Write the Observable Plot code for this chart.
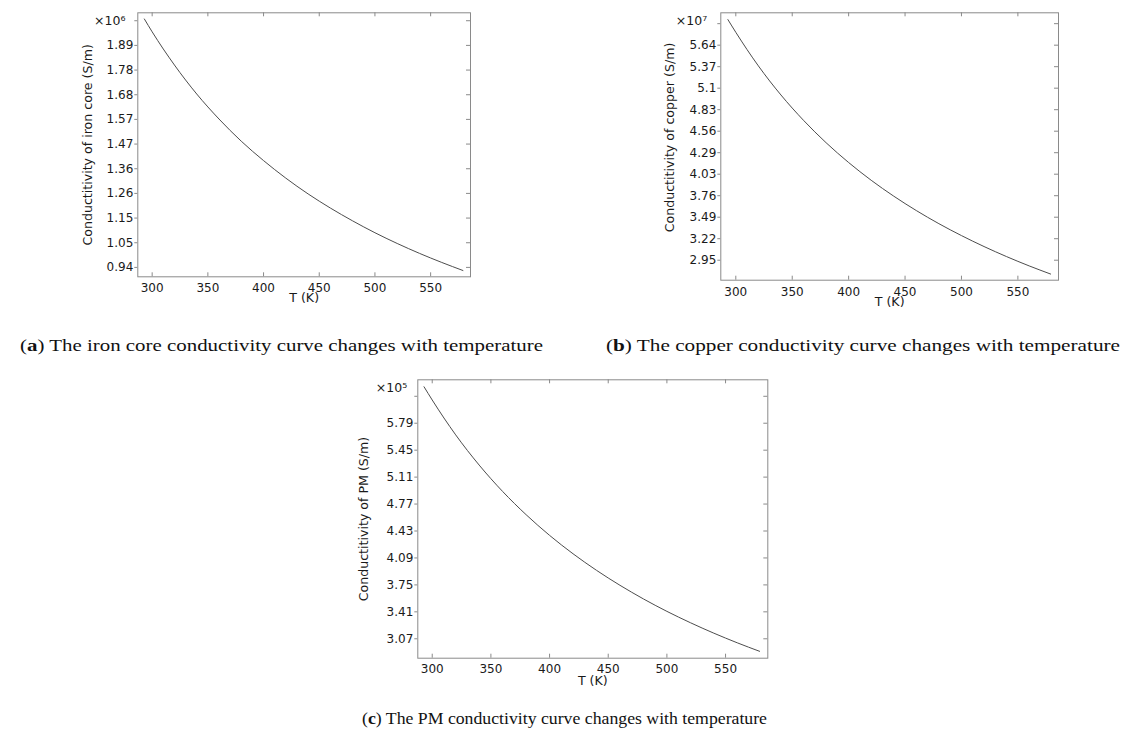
<!DOCTYPE html>
<html><head><meta charset="utf-8">
<script src="https://cdn.jsdelivr.net/npm/d3@7"></script>
<script src="https://cdn.jsdelivr.net/npm/@observablehq/plot@0.6"></script>
<style>
body{margin:0;background:#fff;}
#wrap{position:relative;width:1126px;height:735px;overflow:hidden;background:#fff;}
.panel{position:absolute;}
.panel svg{overflow:visible;}
.cap{position:absolute;font-family:"Liberation Serif",serif;font-size:17.5px;line-height:20px;color:#111;white-space:nowrap;transform-origin:0 50%;}
</style></head><body><div id="wrap">
<div class="panel" id="pa" style="left:0px;top:0px"></div>
<div class="panel" id="pb" style="left:580px;top:0px"></div>
<div class="panel" id="pc" style="left:280px;top:365px"></div>
<div class="cap" data-w="523" style="left:20px;top:335px">(<b>a</b>) The iron core conductivity curve changes with temperature</div>
<div class="cap" data-w="514" style="left:606px;top:335px">(<b>b</b>) The copper conductivity curve changes with temperature</div>
<div class="cap" data-w="405" style="left:362px;top:708px">(<b>c</b>) The PM conductivity curve changes with temperature</div>
</div>
<script>
// Temperature samples (K)
const temperature = [293, 300, 320, 340, 360, 380, 400, 420, 440, 460, 480, 500, 520, 540, 560, 579];
// Conductivity of iron core (×10^6 S/m)
const ironCore = [2.003, 1.948, 1.806, 1.682, 1.575, 1.480, 1.397, 1.322, 1.2545, 1.194, 1.139, 1.0884, 1.0424, 1.0001, 0.9612, 0.9268];
// Conductivity of copper (×10^7 S/m)
const copper = [5.960, 5.801, 5.381, 5.017, 4.700, 4.420, 4.172, 3.950, 3.751, 3.571, 3.407, 3.258, 3.121, 2.995, 2.879, 2.777];
// Conductivity of PM (×10^5 S/m)
const pm = [6.250, 6.083, 5.643, 5.262, 4.929, 4.636, 4.375, 4.143, 3.934, 3.745, 3.573, 3.416, 3.273, 3.141, 3.019, 2.912];

const tempTicks = [300, 350, 400, 450, 500, 550];
const ironTickLabels = ["0.94","1.05","1.15","1.26","1.36","1.47","1.57","1.68","1.78","1.89"];
const copperTickLabels = ["2.95","3.22","3.49","3.76","4.03","4.29","4.56","4.83","5.1","5.37","5.64"];
const pmTickLabels = ["3.07","3.41","3.75","4.09","4.43","4.77","5.11","5.45","5.79"];

const GRAY = "#8a8a8a", INK = "#1a1a1a", FS = 12, LFS = 12.6;

function panel(o){
  const n = o.yLabels.length, lo = +o.yLabels[0], hi = +o.yLabels[n-1], step = (hi-lo)/(n-1);
  const yt = d3.range(n+1).map(i => lo + i*step);
  const fmt = new Map(yt.map((v,i) => [v, i < n ? o.yLabels[i] : ""]));
  const data = o.T.map((t,i) => ({T: t, s: o.values[i]}));
  const fw = o.width - o.ml - o.mr, fh = o.height - o.mt - o.mb;
  const tl = 4;
  return Plot.plot({
    width: o.width, height: o.height,
    marginLeft: o.ml, marginRight: o.mr, marginTop: o.mt, marginBottom: o.mb,
    style: {fontFamily: "DejaVu Sans", fontSize: "12px", color: INK, background: "transparent", overflow: "visible"},
    x: {domain: o.xDomain},
    y: {domain: o.yDomain},
    marks: [
      Plot.axisX({ticks: tempTicks, tickSize: 0, tickPadding: o.xtp, label: null, fill: INK, fontSize: FS}),
      Plot.axisY({ticks: yt, tickFormat: v => fmt.get(v) ?? "", tickSize: 3, tickPadding: 1.5, stroke: GRAY, fill: INK, fontSize: FS, label: null}),
      Plot.tickX(tempTicks, {x: d => d, insetTop: fh - tl, stroke: GRAY}),
      Plot.tickX(tempTicks, {x: d => d, insetBottom: fh - tl, stroke: GRAY}),
      Plot.tickY(yt, {y: d => d, insetLeft: fw - tl, stroke: GRAY}),
      Plot.frame({stroke: GRAY}),
      Plot.line(data, {x: "T", y: "s", stroke: "#4d4d4d", strokeWidth: 1, curve: "monotone-x"}),
      Plot.text([o.exponent], {frameAnchor: "top-left", text: d => d, textAnchor: "end", lineAnchor: "middle", dx: o.expDx, dy: o.expDy, fill: INK, fontSize: 12.5}),
      Plot.text(["T (K)"], {frameAnchor: "bottom", text: d => d, textAnchor: "middle", lineAnchor: "middle", dy: o.xlDy, fill: INK, fontSize: LFS}),
      Plot.text([o.yLabel], {frameAnchor: "left", text: d => d, textAnchor: "middle", lineAnchor: "middle", rotate: -90, dx: o.ylDx, dy: o.ylDy, fill: INK, fontSize: LFS})
    ]
  });
}

document.getElementById("pa").append(panel({
  T: temperature, values: ironCore, yLabels: ironTickLabels, exponent: "×10⁶",
  yLabel: "Conductitivity of iron core (S/m)",
  xDomain: [287.1, 585.8], yDomain: [0.8998, 2.0295],
  width: 490, height: 320, ml: 137.3, mr: 20, mt: 12.3, mb: 43.7,
  xtp: 7, expDx: -12.3, expDy: 7.7, xlDy: 20.7, ylDx: -50.3, ylDy: 0
}));
document.getElementById("pb").append(panel({
  T: temperature, values: copper, yLabels: copperTickLabels, exponent: "×10⁷",
  yLabel: "Conductitivity of copper (S/m)",
  xDomain: [286.7, 586], yDomain: [2.70, 6.045],
  width: 530, height: 320, ml: 140.3, mr: 52, mt: 12.3, mb: 40.3,
  xtp: 7, expDx: -13.6, expDy: 7.7, xlDy: 21.8, ylDx: -51.3, ylDy: -9
}));
document.getElementById("pc").append(panel({
  T: temperature, values: pm, yLabels: pmTickLabels, exponent: "×10⁵",
  yLabel: "Conductitivity of PM (S/m)",
  xDomain: [287.7, 586], yDomain: [2.825, 6.338],
  width: 510, height: 330, ml: 137.3, mr: 22.7, mt: 14.3, mb: 37.3,
  xtp: 6.5, expDx: -10.6, expDy: 8, xlDy: 22.3, ylDx: -54.3, ylDy: 0
}));

// stretch captions horizontally to the reference widths
document.querySelectorAll(".cap").forEach(el => {
  const w = el.getBoundingClientRect().width;
  el.style.transform = `scaleX(${(+el.dataset.w / w).toFixed(4)})`;
});
</script>
</body></html>
